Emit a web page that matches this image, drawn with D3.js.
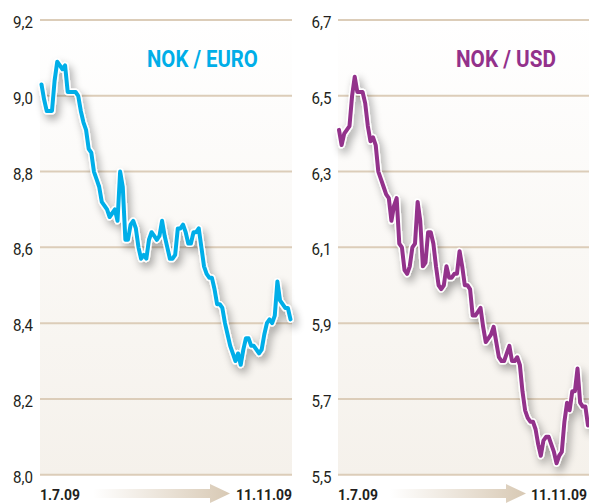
<!DOCTYPE html>
<html>
<head>
<meta charset="utf-8">
<script src="https://cdn.jsdelivr.net/npm/d3@7"></script>
<style>
  body { margin: 0; background: #fff; }
  svg { display: block; }
  text { font-family: "Roboto", "Liberation Sans", sans-serif; }
</style>
</head>
<body>
<svg width="589" height="504"></svg>
<script>
// NOK / EURO, daily 1.7.09 - 11.11.09
var eurValues = [9.03, 8.99, 8.96, 8.96, 8.96, 9.04, 9.09, 9.08, 9.07, 9.08,
  9.01, 9.01, 9.01, 9.01, 9.00, 8.96, 8.93, 8.91, 8.86, 8.85,
  8.80, 8.78, 8.76, 8.72, 8.71, 8.70, 8.68, 8.69, 8.70, 8.67,
  8.80, 8.76, 8.62, 8.62, 8.66, 8.67, 8.65, 8.60, 8.57, 8.58,
  8.57, 8.62, 8.64, 8.63, 8.62, 8.63, 8.67, 8.63, 8.60, 8.57,
  8.57, 8.58, 8.65, 8.65, 8.66, 8.64, 8.61, 8.61, 8.64, 8.64,
  8.65, 8.60, 8.55, 8.53, 8.52, 8.52, 8.49, 8.45, 8.45, 8.44,
  8.40, 8.37, 8.34, 8.32, 8.30, 8.32, 8.29, 8.33, 8.36, 8.36,
  8.34, 8.34, 8.33, 8.32, 8.33, 8.37, 8.40, 8.41, 8.40, 8.42,
  8.51, 8.46, 8.45, 8.44, 8.44, 8.41];

// NOK / USD, same days
var usdValues = [6.41, 6.37, 6.40, 6.41, 6.42, 6.50, 6.55, 6.51, 6.51, 6.51,
  6.48, 6.42, 6.38, 6.39, 6.37, 6.30, 6.28, 6.26, 6.24, 6.23,
  6.17, 6.21, 6.23, 6.11, 6.10, 6.04, 6.03, 6.05, 6.10, 6.11,
  6.22, 6.17, 6.05, 6.06, 6.14, 6.14, 6.11, 6.05, 6.00, 5.99,
  6.00, 6.05, 6.02, 6.02, 6.03, 6.03, 6.09, 6.05, 6.00, 6.00,
  5.99, 5.92, 5.92, 5.93, 5.94, 5.89, 5.85, 5.86, 5.87, 5.89,
  5.85, 5.81, 5.80, 5.80, 5.82, 5.84, 5.80, 5.80, 5.81, 5.79,
  5.72, 5.67, 5.65, 5.64, 5.64, 5.62, 5.58, 5.55, 5.59, 5.60,
  5.60, 5.58, 5.56, 5.53, 5.55, 5.56, 5.64, 5.69, 5.67, 5.72,
  5.72, 5.78, 5.69, 5.68, 5.68, 5.63];

var eurTicks = [8.0, 8.2, 8.4, 8.6, 8.8, 9.0, 9.2];
var usdTicks = [5.5, 5.7, 5.9, 6.1, 6.3, 6.5, 6.7];
var dateLabels = ["1.7.09", "11.11.09"];
var titles = ["NOK / EURO", "NOK / USD"];

var svg = d3.select("svg");
var defs = svg.append("defs");

var bg = defs.append("linearGradient").attr("id", "bgGrad")
  .attr("x1", 0).attr("y1", 0).attr("x2", 0).attr("y2", 1);
bg.append("stop").attr("offset", "0%").attr("stop-color", "#ffffff");
bg.append("stop").attr("offset", "100%").attr("stop-color", "#f5f1eb");

var ar = defs.append("linearGradient").attr("id", "arrowGrad")
  .attr("x1", 0).attr("y1", 0).attr("x2", 1).attr("y2", 0);
ar.append("stop").attr("offset", "0%").attr("stop-color", "#ffffff");
ar.append("stop").attr("offset", "100%").attr("stop-color", "#d8c9b4");

var sh = defs.append("filter").attr("id", "shadow")
  .attr("x", "-20%").attr("y", "-20%").attr("width", "140%").attr("height", "140%");
sh.append("feGaussianBlur").attr("in", "SourceAlpha").attr("stdDeviation", 4).attr("result", "b");
sh.append("feOffset").attr("in", "b").attr("dx", 3).attr("dy", 5).attr("result", "o");
sh.append("feComponentTransfer").attr("in", "o").attr("result", "s")
  .append("feFuncA").attr("type", "linear").attr("slope", 0.35);
var mg = sh.append("feMerge");
mg.append("feMergeNode").attr("in", "s");
mg.append("feMergeNode").attr("in", "SourceGraphic");

// squeeze a text horizontally to a given width (condensed look), left edge at x0
function fitText(g, str, x0, y0, w, size, weight, color) {
  var t = g.append("text")
    .attr("font-size", size).attr("font-weight", weight).attr("fill", color)
    .text(str);
  var nat = t.node().getComputedTextLength() || w;
  t.attr("transform", "translate(" + x0 + "," + y0 + ") scale(" + (w / nat) + ",1)");
  return t;
}

var panels = [
  {values: eurValues, ticks: eurTicks, title: titles[0], color: "#00aee8", titleW: 111,
   gx: [40, 292], lx: [41.5, 290.5], labelX: 33, titleX: 147, dateEnd: 292, arrow: [93, 210, 230]},
  {values: usdValues, ticks: usdTicks, title: titles[1], color: "#93318b", titleW: 100,
   gx: [338, 589], lx: [339, 588], labelX: 331.5, titleX: 456, dateEnd: 587, arrow: [390, 506, 526]}
];

panels.forEach(function(p) {
  var y = d3.scaleLinear().domain([p.ticks[0], p.ticks[p.ticks.length - 1]]).range([474.7, 20]);
  var x = d3.scaleLinear().domain([0, p.values.length - 1]).range(p.lx);
  var g = svg.append("g");

  g.append("rect")
    .attr("x", p.gx[0]).attr("y", 20)
    .attr("width", p.gx[1] - p.gx[0]).attr("height", 455)
    .attr("fill", "url(#bgGrad)");

  g.selectAll(".grid")
    .data(p.ticks)
    .enter()
    .append("line")
    .attr("x1", p.gx[0]).attr("x2", p.gx[1])
    .attr("y1", d => y(d)).attr("y2", d => y(d))
    .attr("stroke", "#dccdb9").attr("stroke-width", 2);

  p.ticks.forEach(function(d) {
    fitText(g, d.toFixed(1).replace(".", ","), p.labelX - 20, y(d) + 8, 20, 16, "normal", "#231f20");
  });

  fitText(g, p.title, p.titleX, 67, p.titleW, 23.5, "bold", p.color);

  var line = d3.line().x((d, i) => x(i)).y(d => y(d)).curve(d3.curveLinear);
  var lg = g.append("g").attr("filter", "url(#shadow)");
  lg.append("path").datum(p.values)
    .attr("d", line).attr("fill", "none")
    .attr("stroke", "#fff").attr("stroke-width", 7)
    .attr("stroke-linejoin", "round").attr("stroke-linecap", "round");
  lg.append("path").datum(p.values)
    .attr("d", line).attr("fill", "none")
    .attr("stroke", p.color).attr("stroke-width", 4)
    .attr("stroke-linejoin", "round").attr("stroke-linecap", "round");

  // date labels and arrow
  fitText(g, dateLabels[0], p.gx[0], 500, 40, 15.5, "bold", "#231f20");
  fitText(g, dateLabels[1], p.dateEnd - 56, 500, 56, 15.5, "bold", "#231f20");

  var a = p.arrow;
  g.append("path")
    .attr("d", "M" + a[0] + ",489 L" + a[1] + ",489 L" + a[1] + ",484 L" + a[2] + ",493.5 L" +
      a[1] + ",503 L" + a[1] + ",498 L" + a[0] + ",498 Z")
    .attr("fill", "url(#arrowGrad)");
});
</script>
</body>
</html>
